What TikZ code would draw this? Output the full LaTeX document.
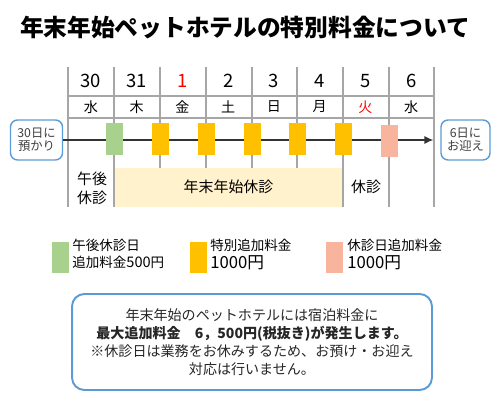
\documentclass[tikz,border=0pt]{standalone}
\usepackage{fontspec}
\setmainfont{Noto Sans CJK JP}
\usetikzlibrary{arrows.meta, positioning}
\definecolor{boxblue}{RGB}{91,155,213}
\definecolor{gridgray}{RGB}{166,166,166}
\definecolor{greenchip}{RGB}{169,209,142}
\definecolor{orangechip}{RGB}{255,192,0}
\definecolor{pinkchip}{RGB}{248,180,156}
\definecolor{lightyellow}{RGB}{255,242,204}

\begin{document}
\begin{tikzpicture}[x=0.02cm, y=-0.02cm,
    grid/.style={draw=gridgray, line width=0.6pt},
    daynum/.style={font=\fontsize{10.5}{12}\selectfont},
    wday/.style={font=\fontsize{8}{9}\selectfont},
    stay/.style={draw=boxblue, fill=white, line width=0.8pt, rounded corners=4pt, align=center,
        minimum width=1.04cm, minimum height=0.8cm, inner sep=1pt, text=black!75,
        font=\fontsize{7}{7.6}\selectfont},
    chip/.style={minimum width=0.34cm, minimum height=0.64cm, inner sep=0pt},
    legtext/.style={anchor=west, align=left, inner sep=0pt, font=\fontsize{7.7}{10}\selectfont},
    bigfee/.style={anchor=north west, inner sep=0pt, font=\fontsize{9.5}{10}\selectfont},
    arr/.style={-{Latex[length=5pt,width=4.5pt]}, line width=0.6pt, black!80}
  ]
  \useasboundingbox (0,0) rectangle (500,404);

  % title
  \node[font=\bfseries\fontsize{13.5}{15}\selectfont] (title) at (245,28) {年末年始ペットホテルの特別料金について};

  % closed period
  \fill[lightyellow] (114,168) rectangle (343,207);

  % calendar grid
  \draw[grid] (68,96) -- (434,96);
  \draw[grid] (68,118) -- (434,118);
  \foreach \x in {68,114,343,389,434}
    \draw[grid] (\x,67) -- (\x,207);
  \foreach \x in {160,206,252,297}
    \draw[grid] (\x,67) -- (\x,168);

  % days and weekdays
  \foreach \d/\w/\dc/\wc [count=\i] in {30/水/black/black, 31/木/black/black, 1/金/red/black,
      2/土/black/black, 3/日/black/black, 4/月/black/black, 5/火/black/red, 6/水/black/black} {
    \pgfmathsetmacro\cx{68+45.75*(\i-0.5)}
    \node[daynum, text=\dc] (d\i) at (\cx,81) {\d};
    \node[wday, text=\wc] (w\i) at (\cx,107) {\w};
  }

  % pickup / return
  \node[stay] (pickup) at (36.5,140) {30日に\\預かり};
  \node[stay, minimum width=0.98cm] (dropoff) at (465.5,140) {6日に\\お迎え};
  \draw[arr, shorten >=4pt] (pickup) -- (dropoff);

  % fee markers
  \node[chip, fill=greenchip] (m1) at (114,139) {};
  \foreach \x [count=\i from 2] in {160,206,252,297,343}
    \node[chip, fill=orangechip] (m\i) at (\x,139) {};
  \node[chip, fill=pinkchip] (m7) at (389,141) {};

  % closed days
  \node[align=center, font=\fontsize{8.5}{10.8}\selectfont] (half) at (92,188) {午後\\休診};
  \node[font=\fontsize{8.5}{10}\selectfont] (holiday) at (228.5,187) {年末年始休診};
  \node[font=\fontsize{8.5}{10}\selectfont] (closed) at (366,187) {休診};

  % legend
  \node[chip, minimum height=0.62cm, fill=greenchip] (lg1) at (60.5,257.5) {};
  \node[legtext] (lt1) at (72,254) {午後休診日\\追加料金{\fontsize{8.3}{10}\selectfont 500}円};
  \node[chip, minimum height=0.62cm, fill=orangechip] (lg2) at (198.5,257.5) {};
  \node[legtext] (lt2) at (210,245) {特別追加料金};
  \node[bigfee] (fee2) at (210,255) {1000円};
  \node[chip, minimum height=0.62cm, fill=pinkchip] (lg3) at (334.5,257.5) {};
  \node[legtext] (lt3) at (347,245) {休診日追加料金};
  \node[bigfee] (fee3) at (347,255) {1000円};

  % note
  \node[draw=boxblue, line width=1.1pt, rounded corners=7pt, minimum width=7.2cm, minimum height=1.92cm,
        align=center, font=\fontsize{8}{10.2}\selectfont, text=black!85] (note) at (252,342)
    {年末年始のペットホテルには宿泊料金に\\
     \textbf{最大追加料金　6，500円(税抜き)が発生します。}\\
     ※休診日は業務をお休みするため、お預け・お迎え\\
     対応は行いません。};
\end{tikzpicture}
\end{document}
